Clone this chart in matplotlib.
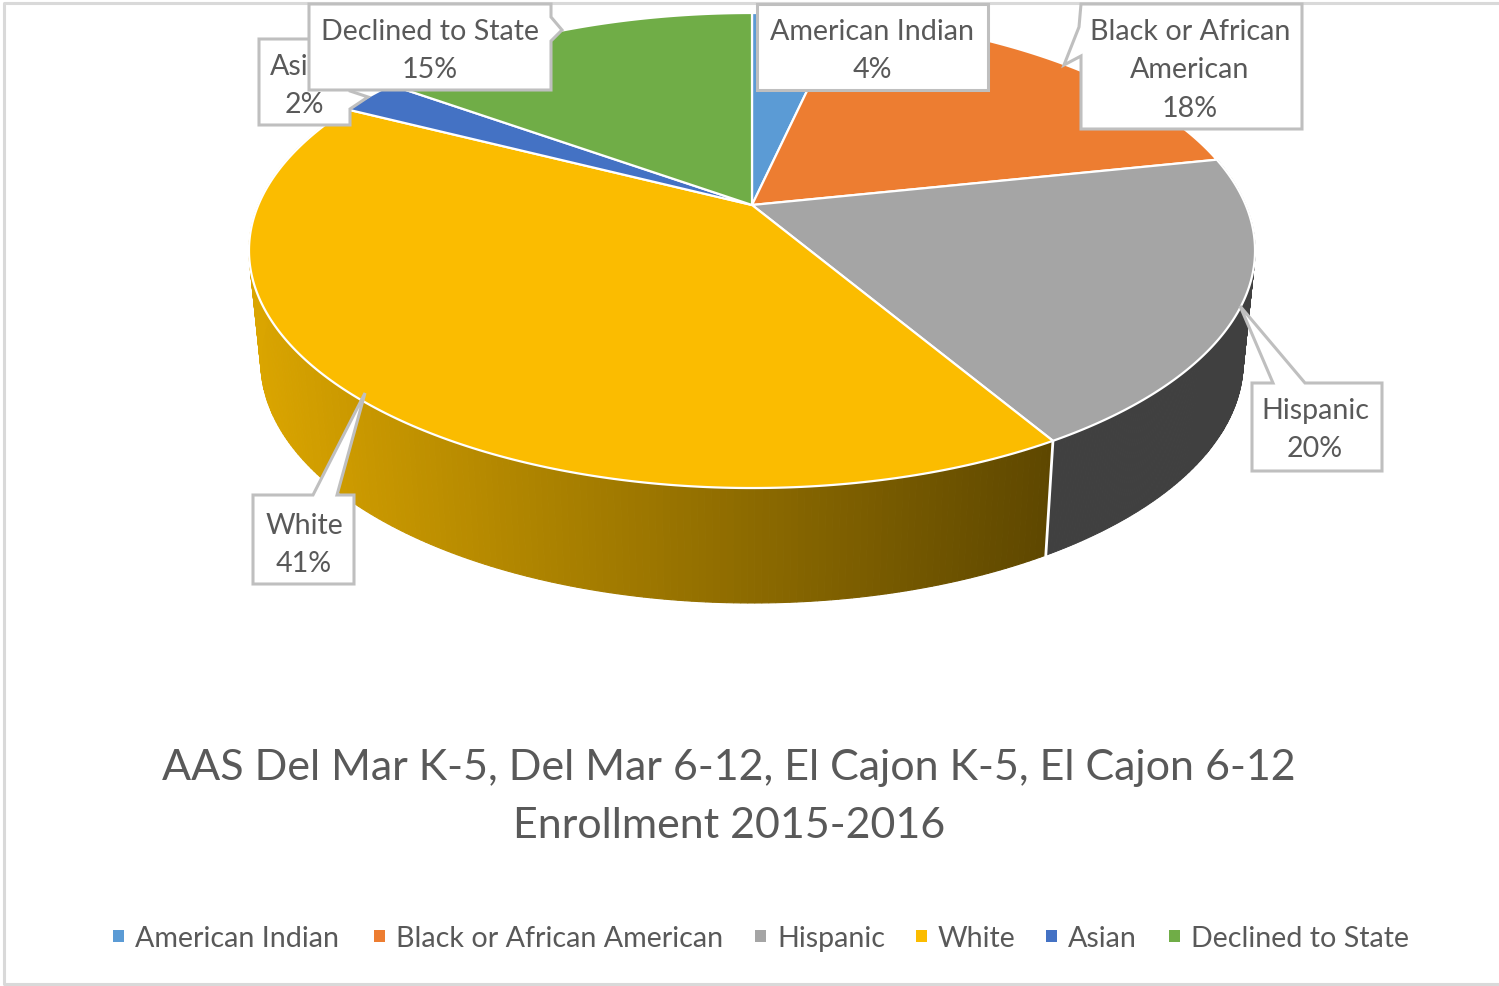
import numpy as np
import matplotlib
matplotlib.use("Agg")
import matplotlib.pyplot as plt
from matplotlib.patches import Polygon, Rectangle

plt.rcParams['font.family'] = ['Lato', 'DejaVu Sans']

categories = ["American Indian", "Black or African American", "Hispanic", "White", "Asian", "Declined to State"]
shares = [3.5, 18.2, 19.8, 41.0, 2.4, 15.1]
pct_labels = ["4%", "18%", "20%", "41%", "2%", "15%"]
colors = ["#5B9BD5", "#ED7D31", "#A5A5A5", "#FBBC00", "#4472C4", "#70AD47"]

title_lines = ["AAS Del Mar K-5, Del Mar 6-12, El Cajon K-5, El Cajon 6-12", "Enrollment 2015-2016"]
legend_x = [113, 374, 755, 916, 1046, 1169]

TEXT = "#595959"
EDGE = "#BFBFBF"
LEFT_WALL = np.array([0.86, 0.65, 0.0])
RIGHT_WALL = np.array([0.37, 0.28, 0.0])

# perspective of the tilted disc, in pixels
K = 0.1916
AX, AY = 752, 206


def rim(pct, r, s, y0):
    t = np.radians(np.asarray(pct) * 3.6)
    u, v = np.sin(t), np.cos(t)
    w = 1 + K * v
    return AX + r * u / w, y0 - s * v / w


def top_rim(pct):
    return rim(pct, 493.7, 228.8, AY)


def bottom_rim(pct):
    return rim(pct, 482, 232, 317)


fig = plt.figure(figsize=(14.99, 9.87), dpi=100)
ax = fig.add_axes([0, 0, 1, 1])
ax.set_xlim(0, 1499)
ax.set_ylim(987, 0)
ax.axis("off")

# frame
ax.plot([1499, 4, 4, 1499], [4, 4, 985, 985], color="#D9D9D9", lw=2.2, zorder=1)

ends = np.cumsum(shares)
starts = ends - np.array(shares)

# side walls, only Hispanic and White can be seen
for i in (2, 3):
    p = np.linspace(starts[i], ends[i], 220)
    xt, yt = top_rim(p)
    xb, yb = bottom_rim(p)
    for j in range(len(p) - 1):
        if i == 2:
            c = "#404040"
        else:
            f = np.clip((xb[j] - 255) / (1045 - 255), 0, 1)
            c = LEFT_WALL + (RIGHT_WALL - LEFT_WALL) * f
        ax.fill([xt[j], xt[j + 1], xb[j + 1], xb[j]], [yt[j], yt[j + 1], yb[j + 1], yb[j]],
                color=c, lw=0.8, zorder=2)

xa, ya = top_rim(starts[3])
xc, yc = bottom_rim(starts[3])
ax.plot([xa, xc], [ya, yc], color="white", lw=2, zorder=3)

# top faces
for i in range(len(shares)):
    p = np.linspace(starts[i], ends[i], 200)
    xs, ys = top_rim(p)
    pts = np.column_stack([np.r_[AX, xs], np.r_[AY, ys]])
    ax.add_patch(Polygon(pts, closed=True, facecolor=colors[i], edgecolor="white", lw=1.6,
                         joinstyle="round", zorder=4))

# callouts: outline in pixels, text centre, first line y, lines
callouts = [
    ([(259, 40), (350, 40), (350, 92), (368, 98), (350, 110), (350, 126), (259, 126)],
     304, 67, ["Asian", pct_labels[4]]),
    ([(309, 5), (551, 5), (551, 18), (562, 31), (551, 42), (551, 91), (309, 91)],
     430, 32, ["Declined to State", pct_labels[5]]),
    ([(757, 5), (988, 5), (988, 91), (757, 91)],
     872, 32, ["American Indian", pct_labels[0]]),
    ([(1081, 5), (1302, 5), (1302, 130), (1081, 130), (1081, 57), (1064, 66), (1079, 28)],
     1190, 32, ["Black or African", "American", pct_labels[1]]),
    ([(1252, 384), (1273, 384), (1240, 307), (1305, 384), (1382, 384), (1382, 472), (1252, 472)],
     1315, 411, ["Hispanic", pct_labels[2]]),
    ([(253, 496), (313, 496), (365, 394), (337, 496), (354, 496), (354, 585), (253, 585)],
     304, 526, ["White", pct_labels[3]]),
]
for n, (outline, cx, y0, lines) in enumerate(callouts):
    z = 5 + n
    ax.add_patch(Polygon(outline, closed=True, facecolor="white", edgecolor=EDGE, lw=2.2,
                         joinstyle="miter", zorder=z))
    for k, line in enumerate(lines):
        ax.text(cx, y0 + k * 38.3, line, ha="center", va="center", color=TEXT, fontsize=20.6, zorder=z)

# title
for k, line in enumerate(title_lines):
    ax.text(729, 768 + k * 58, line, ha="center", va="center", color=TEXT, fontsize=31, zorder=5)

# legend
for name, c, x in zip(categories, colors, legend_x):
    ax.add_patch(Rectangle((x, 931), 11, 12, facecolor=c, edgecolor="none", zorder=5))
    ax.text(x + 22, 939, name, ha="left", va="center", color=TEXT, fontsize=20.6, zorder=5)

fig.savefig("out.png", dpi=100)
